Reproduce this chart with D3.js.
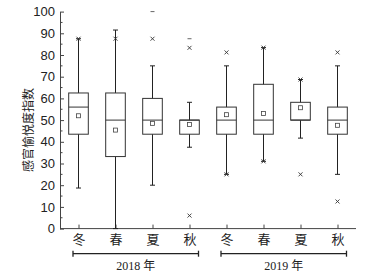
<!DOCTYPE html>
<html>
<head>
<meta charset="utf-8">
<script src="https://cdn.jsdelivr.net/npm/d3@7"></script>
<style>
  html, body { margin: 0; padding: 0; background: #fff; }
  svg { display: block; font-family: "Liberation Serif", "Noto Sans CJK SC", serif; }
</style>
</head>
<body>
<div id="container"></div>
<script>
// 数据
const seasons = ["冬", "春", "夏", "秋", "冬", "春", "夏", "秋"];
const years = ["2018 年", "2019 年"];
const yearOf = [0, 0, 0, 0, 1, 1, 1, 1];
const q1 = [43.5, 33.2, 43.5, 43.5, 43.5, 43.5, 50, 43.5];
const median = [56, 50, 50, 50, 50, 50, 50, 50];
const q3 = [62.5, 62.5, 60, 50, 56, 66.5, 58.2, 56];
const whiskerLow = [18.7, 0, 20, 37.5, 25, 31, 41.7, 25];
const whiskerHigh = [87.5, 91.5, 75, 58.2, 75, 83.4, 68.7, 75];
const mean = [52, 45.4, 48.5, 48, 52.5, 53, 55.7, 47.6];
const pctHigh = [87.5, 87.5, 87.5, 83.3, 81.2, 83.4, 68.7, 81.2];
const pctLow = [null, null, null, 6, 25, 31, 25, 12.5];
const maxMark = [null, null, 100, 87.5, null, null, null, null];
const yTicks = [0, 10, 20, 30, 40, 50, 60, 70, 80, 90, 100];
const yLabel = "感官愉悦度指数";

const width = 366, height = 279;
const marginLeft = 60, marginRight = 10, marginTop = 11.6, axisY = 228.6;

const svg = d3.select("#container").append("svg")
  .attr("width", width)
  .attr("height", height)
  .attr("viewBox", [0, 0, width, height]);

const I = d3.range(seasons.length);

const x = d3.scaleBand(I, [marginLeft, width - marginRight]).paddingInner(0.47).paddingOuter(0.235);
const y = d3.scaleLinear([0, 100], [axisY, marginTop]);
const cx = (i) => x(i) + x.bandwidth() / 2;

const ink = "#222";

// y 轴
svg.append("g")
  .attr("transform", `translate(${marginLeft},0)`)
  .call(d3.axisLeft(y).tickValues(yTicks).tickSizeInner(-4).tickSizeOuter(0).tickPadding(5))
  .call((g) => g.selectAll("text").attr("font-size", 13).attr("fill", ink))
  .call((g) => g.selectAll("line, path").attr("stroke", "#444"))
  .call((g) => g.selectAll(".minor").data(d3.range(5, 100, 10)).join("line")
    .attr("stroke", "#444").attr("x1", 0).attr("x2", 2.5)
    .attr("y1", (d) => y(d)).attr("y2", (d) => y(d)));

// x 轴
svg.append("g")
  .attr("transform", `translate(0,${axisY})`)
  .call(d3.axisBottom(d3.scalePoint(I, [cx(0), cx(7)])).tickSizeInner(-4).tickSizeOuter(0).tickPadding(6).tickFormat((i) => seasons[i]))
  .call((g) => g.select(".domain").attr("d", `M${marginLeft},0H${width - marginRight}`))
  .call((g) => g.selectAll("text").attr("font-size", 13).attr("fill", ink).attr("font-family", "Noto Sans CJK SC"))
  .call((g) => g.selectAll("line, path").attr("stroke", "#444"));

// y 轴标题
svg.append("text")
  .attr("transform", `translate(27,${(axisY + marginTop) / 2 + 10}) rotate(-90)`)
  .attr("text-anchor", "middle")
  .attr("dominant-baseline", "central")
  .attr("font-size", 12)
  .attr("font-family", "Noto Sans CJK SC")
  .attr("fill", ink)
  .text(yLabel);

// 年份括号
const bracketY = 253.7;
const yearG = svg.append("g").attr("stroke", ink).attr("stroke-width", 1.3);
years.forEach((label, k) => {
  const idx = I.filter((i) => yearOf[i] === k);
  const x0 = cx(idx[0]) - 5.5, x1 = cx(idx[idx.length - 1]) + 9;
  yearG.append("line").attr("x1", x0).attr("x2", x1).attr("y1", bracketY).attr("y2", bracketY);
  yearG.append("line").attr("x1", x0).attr("x2", x0).attr("y1", bracketY - 3).attr("y2", bracketY + 3);
  yearG.append("line").attr("x1", x1).attr("x2", x1).attr("y1", bracketY - 3).attr("y2", bracketY + 3);
  svg.append("text")
    .attr("x", (x0 + x1) / 2)
    .attr("y", 266)
    .attr("text-anchor", "middle")
    .attr("dominant-baseline", "central")
    .attr("font-size", 12)
    .attr("fill", ink)
    .text(label);
});

// 箱线图
const boxes = svg.append("g").selectAll("g").data(I).join("g");

boxes.append("line")
  .attr("stroke", ink)
  .attr("x1", cx).attr("x2", cx)
  .attr("y1", (i) => y(whiskerLow[i])).attr("y2", (i) => y(whiskerHigh[i]));

boxes.append("rect")
  .attr("fill", "#fff")
  .attr("stroke", "#333")
  .attr("x", (i) => x(i))
  .attr("width", x.bandwidth())
  .attr("y", (i) => y(q3[i]))
  .attr("height", (i) => y(q1[i]) - y(q3[i]));

boxes.append("line")
  .attr("stroke", "#333")
  .attr("x1", (i) => x(i)).attr("x2", (i) => x(i) + x.bandwidth())
  .attr("y1", (i) => y(median[i])).attr("y2", (i) => y(median[i]));

// 须端横线
[whiskerLow, whiskerHigh].forEach((arr) => {
  boxes.append("line")
    .attr("stroke", ink)
    .attr("x1", (i) => cx(i) - 2.5).attr("x2", (i) => cx(i) + 2.5)
    .attr("y1", (i) => y(arr[i])).attr("y2", (i) => y(arr[i]));
});

// 均值
boxes.append("rect")
  .attr("fill", "none")
  .attr("stroke", "#444")
  .attr("stroke-width", 0.8)
  .attr("x", (i) => cx(i) - 2).attr("y", (i) => y(mean[i]) - 2)
  .attr("width", 4).attr("height", 4);

// 1%/99% 标记
const cross = (sel, arr) => sel.filter((i) => arr[i] != null)
  .append("path")
  .attr("stroke", "#333")
  .attr("stroke-width", 0.9)
  .attr("d", (i) => {
    const px = cx(i), py = y(arr[i]);
    return `M${px - 2},${py - 2}L${px + 2},${py + 2}M${px - 2},${py + 2}L${px + 2},${py - 2}`;
  });
cross(boxes, pctHigh);
cross(boxes, pctLow);

// 最大值标记
boxes.filter((i) => maxMark[i] != null)
  .append("line")
  .attr("stroke", "#666")
  .attr("x1", (i) => cx(i) - 2).attr("x2", (i) => cx(i) + 2)
  .attr("y1", (i) => y(maxMark[i])).attr("y2", (i) => y(maxMark[i]));
</script>
</body>
</html>
